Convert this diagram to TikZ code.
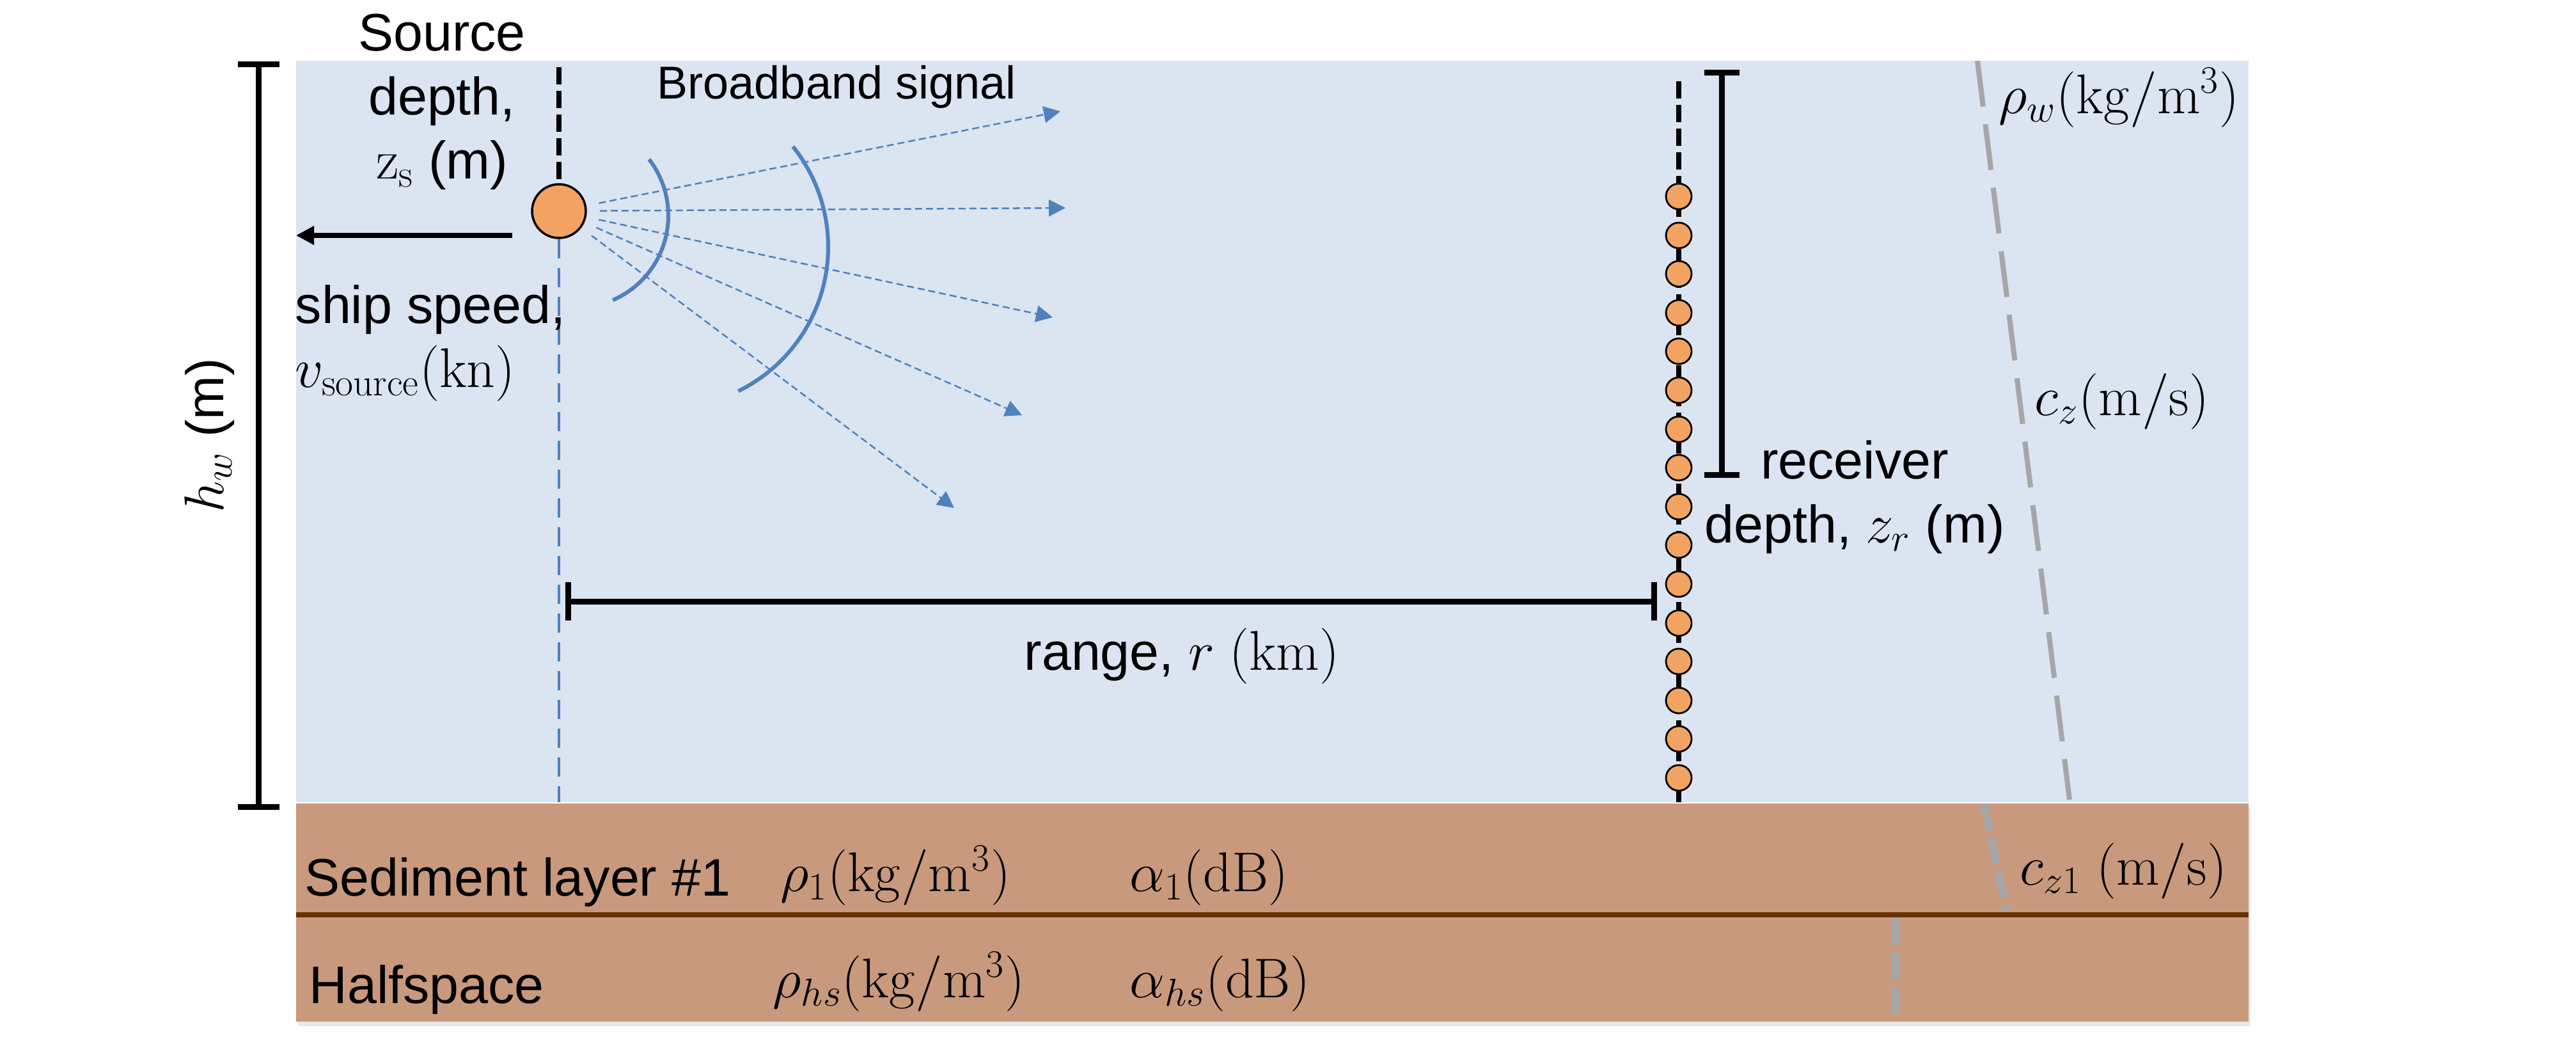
\documentclass[tikz,border=0pt]{standalone}
\usepackage[no-math]{fontspec}
\setmainfont{Liberation Sans}
\usepackage{amsmath}
\usetikzlibrary{arrows.meta}
\usetikzlibrary{shadows}
\definecolor{water}{RGB}{219,228,241}
\definecolor{seabed}{RGB}{201,153,125}
\definecolor{mud}{RGB}{102,51,0}
\definecolor{hydro}{RGB}{242,163,98}
\definecolor{sigblue}{RGB}{79,129,189}
\definecolor{spgray}{RGB}{166,166,166}
\newcommand{\phone}[2]{ \node[rcv] (#1) at (26.25 , #2) {};}
\tikzset{
  lbl/.style={font=\fontsize{23.5}{28.4}\selectfont, inner sep=0pt},
  dimbar/.style={line width=0.09cm, {Bar[width=#1]}-{Bar[width=#1]}},
  rcv/.style={circle, draw=black, line width=0.028cm, fill=hydro, minimum size=0.40cm, inner sep=0pt},
  srcdot/.style={circle, draw=black, line width=0.035cm, fill=hydro, minimum size=0.84cm, inner sep=0pt},
  ray/.style={sigblue, line width=0.025cm, dash pattern=on 0.11cm off 0.06cm, shorten <=0.2cm, -{Triangle[length=0.26cm,width=0.26cm]}},
  wave/.style={sigblue, line width=0.06cm},
  cable/.style={black, line width=0.08cm, dash pattern=on 0.27cm off 0.10cm},
  trail/.style={sigblue, line width=0.035cm, dash pattern=on 0.30cm off 0.15cm},
  sspline/.style={spgray, line width=0.08cm, dash pattern=on 0.72cm off 0.28cm},
  sedline/.style={spgray, line width=0.13cm, dash pattern=on 0.42cm off 0.12cm},
  ship/.style={line width=0.08cm, -{Triangle[length=0.28cm,width=0.28cm]}}
}

\begin{document}
\begin{tikzpicture}
        \useasboundingbox (0,0) rectangle (40.28,-16.56);
        % water and seabed
        \fill[water] (4.63,-0.95) rectangle (35.16,-12.54);
        \fill[seabed, drop shadow={shadow xshift=0.03cm, shadow yshift=-0.07cm, opacity=0.18}] (4.63,-12.56) rectangle (35.16,-15.97);
        \draw[mud, line width=0.08cm] (4.63,-14.30) -- (35.16,-14.30);
        % sound speed profile
        \draw[sspline] (30.92,-0.95) -- (32.36,-12.50);
        \draw[sedline] (31.02,-12.57) -- (31.38,-14.23);
        \draw[sedline] (29.63,-14.35) -- (29.63,-15.87);
        % water depth
        \coordinate (hwtop) at (4.04,-0.96);
        \coordinate (hwbot) at (4.04,-12.66);
        \draw[dimbar=0.65cm] (hwtop) -- (hwbot);
        \node[lbl, rotate=90] (hw) at (3.28,-6.81) {$h_w$~(m)};
        % source
        \node[srcdot] (src) at (8.74,-3.30) {};
        \coordinate (stop) at (8.74,-1.05);
        \coordinate (sbot) at (8.74,-12.54);
        \draw[cable] (stop) -- (src);
        \draw[trail] (src) -- (sbot);
        \coordinate (shipA) at (8.01,-3.68);
        \coordinate (shipB) at (4.63,-3.68);
        \draw[ship] (shipA) -- (shipB);
        \node[lbl, align=center, anchor=base] (srclbl) at (6.91,-2.79) {Source\\depth,\\$\mathrm{z}_{\mathrm{s}}$ (m)};
        \node[lbl, align=left, anchor=base west] (shiplbl) at (4.61,-6.05) {ship speed,\\$v_{\mathrm{source}}(\mathrm{kn})$};
        % signal
        \coordinate (t1) at (16.58,-1.74);
        \coordinate (t2) at (16.66,-3.25);
        \coordinate (t3) at (16.46,-4.96);
        \coordinate (t4) at (15.98,-6.49);
        \coordinate (t5) at (14.92,-7.94);
        \draw[ray] (src) -- (t1);
        \draw[ray] (src) -- (t2);
        \draw[ray] (src) -- (t3);
        \draw[ray] (src) -- (t4);
        \draw[ray] (src) -- (t5);
        \draw[wave] (9.01,-3.37) ++(37.7:1.44) arc (37.7:-66.6:1.44);
        \draw[wave] (10.44,-3.86) ++(38.7:2.51) arc (38.7:-63.9:2.51);
        \node[lbl, font=\fontsize{20.5}{24}\selectfont, anchor=base west] (bb) at (10.27,-1.54) {Broadband signal};
        % receiver array
        \coordinate (rtop) at (26.25,-1.27);
        \coordinate (rbot) at (26.25,-12.54);
        \draw[cable] (rtop) -- (rbot);
        \phone{r1}{-3.07}
        \phone{r2}{-3.68}
        \phone{r3}{-4.28}
        \phone{r4}{-4.89}
        \phone{r5}{-5.49}
        \phone{r6}{-6.10}
        \phone{r7}{-6.71}
        \phone{r8}{-7.31}
        \phone{r9}{-7.92}
        \phone{r10}{-8.52}
        \phone{r11}{-9.13}
        \phone{r12}{-9.74}
        \phone{r13}{-10.34}
        \phone{r14}{-10.95}
        \phone{r15}{-11.55}
        \phone{r16}{-12.16}
        \coordinate (zrtop) at (26.92,-1.09);
        \coordinate (zrbot) at (26.92,-7.47);
        \draw[dimbar=0.55cm] (zrtop) -- (zrbot);
        \node[lbl, align=center, anchor=base] (rcvlbl) at (29.0,-8.48) {receiver\\depth, $z_r$ (m)};
        % range
        \coordinate (rgL) at (8.84,-9.40);
        \coordinate (rgR) at (25.91,-9.40);
        \draw[dimbar=0.60cm] (rgL) -- (rgR);
        \node[lbl, anchor=base] (rng) at (18.48,-10.47) {range, $r$~$(\mathrm{km})$};
        % water parameters
        \node[lbl, anchor=base west] (rhow) at (31.25,-1.77) {$\rho_w(\mathrm{kg/m^3})$};
        \node[lbl, anchor=base west] (cz) at (31.81,-6.49) {$c_z(\mathrm{m/s})$};
        % sediment and halfspace
        \node[lbl, anchor=base west] (sed) at (4.76,-14.00) {Sediment layer \#1};
        \node[lbl, anchor=base west] (rho1) at (12.20,-13.93) {$\rho_1(\mathrm{kg/m^3})$};
        \node[lbl, anchor=base west] (alpha1) at (17.66,-13.93) {$\alpha_1(\mathrm{dB})$};
        \node[lbl, anchor=base west] (cz1) at (31.58,-13.83) {$c_{z1}$~$(\mathrm{m/s})$};
        \node[lbl, anchor=base west] (hs) at (4.83,-15.68) {Halfspace};
        \node[lbl, anchor=base west] (rhohs) at (12.08,-15.59) {$\rho_{hs}(\mathrm{kg/m^3})$};
        \node[lbl, anchor=base west] (alphahs) at (17.66,-15.59) {$\alpha_{hs}(\mathrm{dB})$};
    \end{tikzpicture}
\end{document}
